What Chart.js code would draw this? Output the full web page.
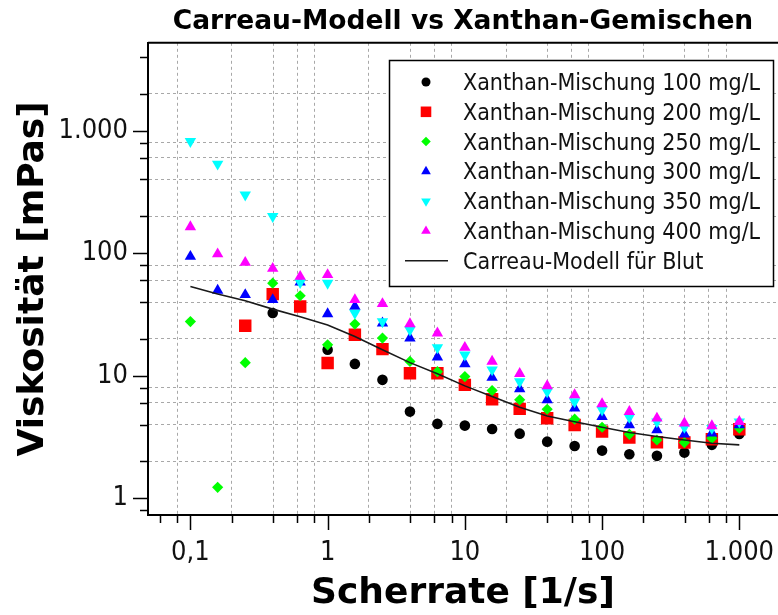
<!DOCTYPE html>
<html>
<head>
<meta charset="utf-8">
<title>Carreau-Modell vs Xanthan-Gemischen</title>
<script src="https://cdn.jsdelivr.net/npm/chart.js@4.4.1/dist/chart.umd.min.js"></script>
<style>
  html, body { margin: 0; padding: 0; background: #fff; }
  #wrap { width: 778px; height: 615px; }
</style>
</head>
<body>
<div id="wrap"><canvas id="myChart" width="778" height="615"></canvas></div>
<script>
// shear rates [1/s]
const shearRates = [0.1, 0.158, 0.251, 0.398, 0.631, 1, 1.58, 2.51, 3.98, 6.31, 10, 15.8, 25.1, 39.8, 63.1, 100, 158, 251, 398, 631, 1000];

// viscosity [mPas] per xanthan concentration
const visc100 = [null, null, null, 32.5, null, 16.3, 12.5, 9.26, 5.1, 4.05, 3.92, 3.68, 3.37, 2.9, 2.67, 2.45, 2.29, 2.22, 2.36, 2.73, 3.35];
const visc200 = [null, null, 25.6, 46.4, 36.8, 12.7, 21.6, 16.5, 10.5, 10.5, 8.43, 6.44, 5.37, 4.5, 3.97, 3.5, 3.13, 2.87, 2.85, 3.03, 3.66];
const visc250 = [27.7, 1.23, 12.8, 57, 45, 17.9, 26.4, 20.3, 13.1, 10.8, 9.85, 7.57, 6.36, 5.33, 4.42, 3.8, 3.33, 2.99, 2.85, 3.09, 3.73];
const visc300 = [94, 49.7, 45.8, 41.7, 58, 32, 36.8, 26.9, 20.3, 14.2, 12.5, 9.67, 7.81, 6.36, 5.44, 4.64, 3.97, 3.61, 3.33, 3.4, 3.97];
const visc350 = [819, 535, 300, 200, 57.7, 57, 32.5, 27.7, 23.7, 17, 14.8, 11.2, 8.97, 7.43, 6.15, 5.27, 4.59, 4.22, 3.8, 3.73, 4.22];
const visc400 = [164, 98.5, 84, 75, 64.6, 66.7, 41.7, 38.7, 26.5, 22.3, 17, 13.1, 10.4, 8.27, 6.98, 5.89, 5.1, 4.5, 4.1, 3.9, 4.22];

// Carreau model for blood
const carreauBlood = [53.5, 46.5, 41, 35, 30.3, 26, 20.9, 16.3, 12.8, 10.4, 8.27, 6.76, 5.54, 4.7, 4.22, 3.8, 3.44, 3.19, 2.99, 2.81, 2.73];

// axis ticks
const xTickValues = [0.06, 0.08, 0.1, 0.2, 0.4, 0.6, 0.8, 1, 2, 4, 6, 8, 10, 20, 40, 60, 80, 100, 200, 400, 600, 800, 1000];
const yTickValues = [0.8, 1, 2, 4, 6, 8, 10, 20, 40, 60, 80, 100, 200, 400, 600, 800, 1000, 2000, 4000];
const majorValues = [0.1, 1, 10, 100, 1000];
const majorLabels = ['0,1', '1', '10', '100', '1.000'];

const FONT = '"DejaVu Sans Condensed", "Liberation Sans", sans-serif';
const BOLD_FONT = '"DejaVu Sans", "Liberation Sans", sans-serif';

function toPoints(arr) {
    return shearRates.map((x, i) => ({ x: x, y: arr[i] }));
}

function isMajor(v) {
    return majorValues.indexOf(v) !== -1;
}

function majorLabel(v) {
    const i = majorValues.indexOf(v);
    return i === -1 ? '' : majorLabels[i];
}

const series = [
    { label: 'Xanthan-Mischung 100 mg/L', data: visc100, color: '#000000', style: 'circle', radius: 5.3, rotation: 0 },
    { label: 'Xanthan-Mischung 200 mg/L', data: visc200, color: '#ff0000', style: 'rect', radius: 8.8, rotation: 0 },
    { label: 'Xanthan-Mischung 250 mg/L', data: visc250, color: '#00ff00', style: 'rectRot', radius: 5.6, rotation: 0 },
    { label: 'Xanthan-Mischung 300 mg/L', data: visc300, color: '#0000ff', style: 'triangle', radius: 6.6, rotation: 0 },
    { label: 'Xanthan-Mischung 350 mg/L', data: visc350, color: '#00ffff', style: 'triangle', radius: 6.6, rotation: 180 },
    { label: 'Xanthan-Mischung 400 mg/L', data: visc400, color: '#ff00ff', style: 'triangle', radius: 6.6, rotation: 0 }
];

const datasets = series.map((s, i) => ({
    label: s.label,
    data: toPoints(s.data),
    backgroundColor: s.color,
    borderColor: s.color,
    borderWidth: 0,
    pointStyle: s.style,
    pointRadius: s.radius,
    pointRotation: s.rotation,
    showLine: false,
    order: 10 - i
}));

datasets.push({
    label: 'Carreau-Modell für Blut',
    data: toPoints(carreauBlood),
    borderColor: '#1a1a1a',
    borderWidth: 1.6,
    pointRadius: 0,
    showLine: true,
    tension: 0,
    order: 0
});

// grid colour: dashed gray on minor ticks, none on majors and on the outer ticks
function gridColor(ctx) {
    const ticks = ctx.scale.ticks;
    const idx = ctx.index;
    if (!ctx.tick) return 'rgba(0,0,0,0)';
    if (isMajor(ctx.tick.value)) return 'rgba(0,0,0,0)';
    if (idx === 0 || idx === ticks.length - 1) return 'rgba(0,0,0,0)';
    return '#a8a8a8';
}

// draws outward tick marks, the top frame line and the legend box
const decorations = {
    id: 'decorations',
    afterDraw(chart) {
        const ctx = chart.ctx;
        const area = chart.chartArea;
        const xs = chart.scales.x;
        const ys = chart.scales.y;
        ctx.save();
        ctx.strokeStyle = '#000';
        ctx.lineWidth = 1.5;
        ctx.beginPath();
        xs.ticks.forEach(t => {
            const px = Math.round(xs.getPixelForValue(t.value)) + 0.5;
            const len = isMajor(t.value) ? 15 : 8;
            ctx.moveTo(px, area.bottom);
            ctx.lineTo(px, area.bottom + len);
        });
        ys.ticks.forEach(t => {
            const py = Math.round(ys.getPixelForValue(t.value)) + 0.5;
            const len = isMajor(t.value) ? 15 : 8;
            ctx.moveTo(area.left, py);
            ctx.lineTo(area.left - len, py);
        });
        ctx.stroke();

        // top frame
        ctx.lineWidth = 2;
        ctx.beginPath();
        ctx.moveTo(area.left, area.top);
        ctx.lineTo(area.right, area.top);
        ctx.stroke();

        // legend
        const box = { x: 389, y: 60, w: 384, h: 226 };
        ctx.fillStyle = '#fff';
        ctx.fillRect(box.x, box.y, box.w, box.h);
        ctx.strokeStyle = '#000';
        ctx.lineWidth = 1.5;
        ctx.strokeRect(box.x + 0.5, box.y + 0.5, box.w, box.h);

        ctx.font = '23px ' + FONT;
        ctx.textBaseline = 'middle';
        ctx.textAlign = 'left';
        chart.data.datasets.forEach((ds, i) => {
            const cy = 84 + i * 29.8;
            const mx = 426;
            if (ds.showLine) {
                ctx.strokeStyle = ds.borderColor;
                ctx.lineWidth = ds.borderWidth;
                ctx.beginPath();
                ctx.moveTo(405, cy - 2);
                ctx.lineTo(448, cy - 2);
                ctx.stroke();
            } else {
                ctx.fillStyle = ds.backgroundColor;
                ctx.strokeStyle = ds.borderColor;
                Chart.helpers.drawPoint(ctx, {
                    pointStyle: ds.pointStyle,
                    rotation: ds.pointRotation,
                    radius: ds.pointRadius * 0.85,
                    borderWidth: 0
                }, mx, cy - 2);
            }
            ctx.fillStyle = '#111';
            ctx.fillText(ds.label, 463, cy);
        });
        ctx.restore();
    }
};

const ctx = document.getElementById('myChart').getContext('2d');
const chart = new Chart(ctx, {
    type: 'scatter',
    data: { datasets: datasets },
    plugins: [decorations],
    options: {
        responsive: false,
        animation: false,
        layout: { padding: 0, autoPadding: false },
        plugins: {
            legend: { display: false },
            tooltip: { enabled: false },
            title: {
                display: true,
                fullSize: false,
                text: 'Carreau-Modell vs Xanthan-Gemischen',
                color: '#000',
                font: { family: BOLD_FONT, size: 26.5, weight: 'bold', lineHeight: 1.2 },
                padding: { top: 6, bottom: 5 }
            }
        },
        scales: {
            x: {
                type: 'logarithmic',
                bounds: 'data',
                min: 0.0491,
                max: 1914,
                afterBuildTicks: axis => { axis.ticks = xTickValues.map(v => ({ value: v, major: isMajor(v) })); },
                afterFit: axis => { axis.height = 100; axis.paddingLeft = 0; axis.paddingRight = 0; },
                grid: { color: gridColor, lineWidth: 1, drawTicks: false },
                border: { display: true, color: '#000', width: 2, dash: [3, 3] },
                ticks: {
                    autoSkip: false,
                    maxRotation: 0,
                    padding: 22,
                    color: '#111',
                    font: { family: FONT, size: 27 },
                    callback: v => majorLabel(v)
                },
                title: {
                    display: true,
                    text: 'Scherrate [1/s]',
                    color: '#000',
                    font: { family: BOLD_FONT, size: 36, weight: 'bold', lineHeight: 1.2 },
                    padding: { top: 0, bottom: 0 }
                }
            },
            y: {
                type: 'logarithmic',
                bounds: 'data',
                min: 0.7306,
                max: 5219,
                afterBuildTicks: axis => { axis.ticks = yTickValues.map(v => ({ value: v, major: isMajor(v) })); },
                afterFit: axis => { axis.width = 148; axis.paddingTop = 0; axis.paddingBottom = 0; },
                grid: { color: gridColor, lineWidth: 1, drawTicks: false },
                border: { display: true, color: '#000', width: 2, dash: [3, 3] },
                ticks: {
                    autoSkip: false,
                    padding: 20,
                    color: '#111',
                    font: { family: FONT, size: 27 },
                    callback: v => majorLabel(v)
                },
                title: {
                    display: true,
                    text: 'Viskosität [mPas]',
                    color: '#000',
                    font: { family: BOLD_FONT, size: 36, weight: 'bold', lineHeight: 1.2 },
                    padding: { top: 12, bottom: 0 }
                }
            }
        }
    }
});
</script>
</body>
</html>
